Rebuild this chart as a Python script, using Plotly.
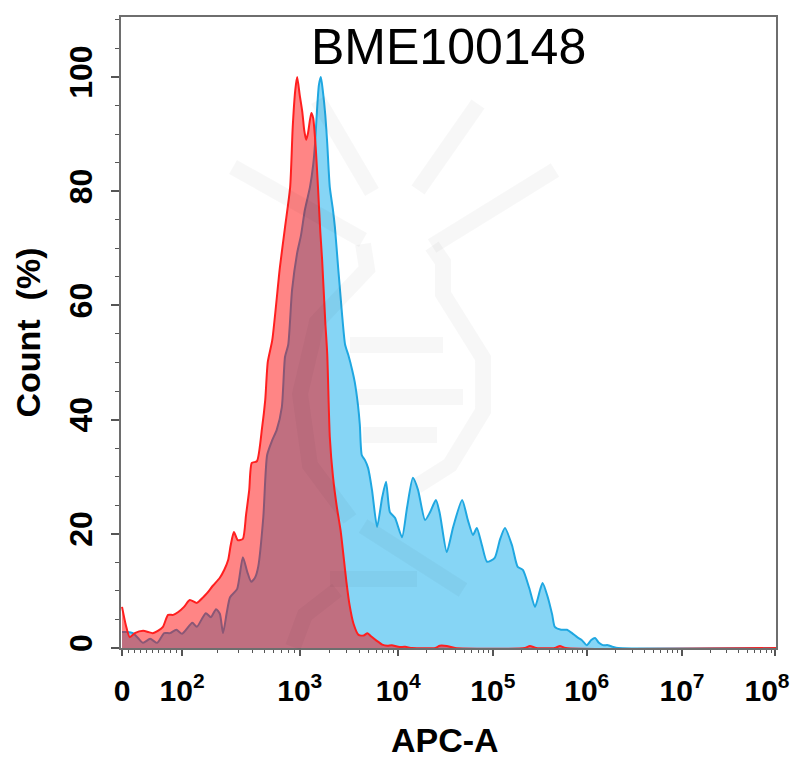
import numpy as np
import plotly.graph_objects as go

# ---------------- data (display channel on biexponential APC-A scale, 0-1023) -------------
blue_channel = [0, 8, 17, 25, 33, 44, 55, 66, 75, 85, 94, 110, 117, 131, 139, 147, 153, 158,
                164, 169, 180, 189, 196, 202, 208, 213, 221, 227, 235, 242, 250, 255, 260,
                266, 274, 280, 286, 294, 299, 302, 305, 308, 311, 314, 318, 321, 325, 330,
                333, 338, 341, 344, 349, 354, 360, 364, 369, 372, 375, 380, 385, 391, 399,
                407, 413, 419, 427, 438, 446, 455, 463, 474, 482, 491, 497, 508, 518, 532,
                541, 549, 555, 563, 571, 583, 591, 599, 610, 619, 627, 637, 646, 654, 658,
                666, 673, 677, 687, 696, 704, 712, 719, 727, 734, 740, 746, 752, 760, 768,
                776, 1023]
blue_count = [2.8, 2.8, 2.6, 1.75, 0.9, 1.6, 0.9, 2.6, 2.6, 3.2, 2.5, 4.4, 3.7, 6.1, 5.4, 6.8,
              6.0, 2.6, 6.3, 8.9, 10.3, 15.9, 13.3, 11.6, 12.3, 14.2, 22.9, 33.8, 36.4, 38.2,
              42.2, 51.0, 53.1, 62.7, 69.2, 72.3, 76.7, 80.7, 84.6, 88.4, 94.2, 98.6, 100.0,
              97.7, 93.3, 88.4, 80.7, 76.7, 73.7, 66.7, 62.7, 58.7, 53.1, 51.3, 48.7, 46.6,
              42.6, 39.1, 33.8, 32.9, 31.5, 27.7, 21.2, 26.4, 29.1, 23.8, 22.8, 19.4, 24.7,
              29.8, 27.7, 22.4, 23.8, 25.9, 23.6, 16.8, 21.2, 25.9, 22.4, 19.8, 21.0, 18.0,
              15.1, 15.8, 18.9, 21.0, 18.0, 14.2, 13.7, 10.5, 7.2, 10.2, 11.4, 8.9, 5.8, 3.7,
              3.2, 3.2, 2.6, 1.9, 1.4, 0.5, 1.4, 1.75, 0.9, 0.5, 0.5, 0.2, 0.0, 0.0]

red_channel = [0, 6, 12, 20, 33, 41, 48, 56, 64, 72, 80, 88, 97, 106, 117, 127, 133, 142, 153,
               160, 166, 170, 175, 181, 189, 194, 199, 203, 211, 219, 224, 228, 235, 247, 255,
               263, 267, 271, 274, 278, 282, 285, 288, 291, 296, 299, 303, 307, 310, 313, 318,
               321, 325, 330, 336, 342, 351, 356, 362, 370, 378, 384, 390, 398, 407, 415, 422,
               432, 443, 454, 490, 497, 508, 521, 630, 638, 648, 677, 685, 694, 1023]
red_count = [7.2, 4.0, 1.9, 2.6, 3.0, 2.8, 2.6, 3.0, 3.7, 5.8, 5.8, 6.3, 7.2, 8.4, 7.9, 8.9,
             9.6, 10.9, 12.3, 13.7, 15.4, 18.0, 20.3, 18.9, 19.1, 23.3, 27.7, 32.4, 32.7, 38.5,
             43.4, 50.1, 53.9, 66.7, 73.7, 80.7, 91.2, 97.7, 100.0, 96.8, 93.9, 90.7, 89.0,
             90.2, 93.7, 92.8, 87.7, 79.7, 73.2, 68.0, 57.0, 51.5, 37.0, 30.0, 24.7, 20.5,
             11.6, 7.5, 4.3, 2.3, 2.2, 2.6, 2.0, 1.3, 0.6, 0.4, 0.5, 0.2, 0.2, 0.0, 0.0, 0.4,
             0.35, 0.0, 0.0, 0.35, 0.0, 0.0, 0.35, 0.0, 0.0]

decade_values = [0, 1e2, 1e3, 1e4, 1e5, 1e6, 1e7, 1e8]
decade_channels = [0, 94, 278, 432, 580, 727, 876, 1022]
decade_labels = ["0", "10<sup>2</sup>", "10<sup>3</sup>", "10<sup>4</sup>", "10<sup>5</sup>",
                 "10<sup>6</sup>", "10<sup>7</sup>", "10<sup>8</sup>\u00a0\u00a0"]
y_ticks = [0, 20, 40, 60, 80, 100]

title_text = "BME100148"
x_title = "APC-A"
y_title = "Count  (%)"

# ---------------- scale helpers -------------
log_dec = np.log10(decade_values[1:])


def to_channel(v):
    if v <= 100:
        return v / 100.0 * decade_channels[1]
    return float(np.interp(np.log10(v), log_dec, decade_channels[1:]))


minor_vals = [to_channel(v) for v in range(10, 100, 10)]
for n in range(2, 8):
    for k in range(2, 10):
        minor_vals.append(to_channel(k * 10 ** n))

FONT = "Arial, Liberation Sans, sans-serif"

fig = go.Figure()
fig.add_trace(go.Scatter(
    x=blue_channel, y=blue_count, mode="lines", fill="tozeroy",
    fillcolor="#86D5F5",
    line=dict(color="#1FA7E1", width=2, shape="spline", smoothing=0.6),
    showlegend=False, hoverinfo="skip"))
fig.add_trace(go.Scatter(
    x=red_channel, y=red_count, mode="lines", fill="tozeroy",
    fillcolor="rgba(255,0,0,0.48)",
    line=dict(color="#FF1F1F", width=2, shape="spline", smoothing=0.6),
    showlegend=False, hoverinfo="skip"))

# plot box geometry (pixels) for decorative watermark placement
L, R, T, B = 121, 776, 17, 648


def px(xp, yp):
    return (xp - L) / (R - L), (B - yp) / (B - T)


wm_lines = [((233, 167), (363, 240)), ((318, 100), (372, 192)), ((478, 104), (418, 190)),
            ((555, 170), (432, 246)), ((350, 345), (443, 345)), ((357, 397), (463, 397)),
            ((363, 435), (437, 435)), ((363, 526), (463, 590)), ((330, 579), (417, 579))]
wm_paths = [[(432, 246), (443, 262), (443, 294), (483, 358), (483, 411), (450, 465), (417, 486)],
            [(363, 244), (367, 269), (317, 322), (300, 394), (310, 465), (350, 519)],
            [(293, 647), (305, 615), (337, 590)]]
shapes = []
wm_col = "rgba(0,0,0,0.03)"
for (a, b) in wm_lines:
    x0, y0 = px(*a)
    x1, y1 = px(*b)
    shapes.append(dict(type="line", xref="paper", yref="paper", x0=x0, y0=y0, x1=x1, y1=y1,
                       line=dict(color=wm_col, width=16), layer="above"))
for pts in wm_paths:
    pp = [px(*p) for p in pts]
    d = "M " + " L ".join(f"{x:.4f},{y:.4f}" for x, y in pp)
    shapes.append(dict(type="path", xref="paper", yref="paper", path=d,
                       line=dict(color=wm_col, width=16), layer="above"))

fig.update_layout(
    width=794, height=758,
    template="none",
    paper_bgcolor="white", plot_bgcolor="white",
    margin=dict(l=L, r=794 - R, t=T, b=758 - B, pad=0),
    shapes=shapes,
    annotations=[
        dict(text=title_text, xref="paper", yref="paper", x=0.5, y=(B - 47) / (B - T),
             xanchor="center", yanchor="middle", showarrow=False,
             font=dict(family=FONT, size=50, color="black")),
        dict(text=x_title, xref="paper", yref="paper", x=(445 - L) / (R - L), y=0,
             yshift=-(740 - B), xanchor="center", yanchor="middle", showarrow=False,
             font=dict(family=FONT, size=34, color="black", weight="bold")),
        dict(text=y_title, xref="paper", yref="paper", x=0, xshift=-(L - 27), y=0.5,
             xanchor="center", yanchor="middle", textangle=-90, showarrow=False,
             font=dict(family=FONT, size=34, color="black", weight="bold")),
    ],
)
fig.update_xaxes(
    range=[-1.6, 1023], tickmode="array", tickvals=decade_channels, ticktext=decade_labels,
    ticks="outside", ticklen=6, tickwidth=1.5, tickcolor="#555555", ticklabelstandoff=9,
    ticklabeloverflow="allow",
    showline=True, linecolor="#6E6E6E", linewidth=1.5, mirror=True,
    showgrid=False, zeroline=False, layer="above traces", automargin=False,
    tickfont=dict(family=FONT, size=30, color="black", weight="bold"),
    minor=dict(tickvals=minor_vals, ticks="outside", ticklen=3, tickwidth=1, tickcolor="#555555"),
)
fig.update_yaxes(
    range=[0, 110.5], tickmode="array", tickvals=y_ticks, ticktext=[str(v) for v in y_ticks],
    ticks="outside", ticklen=8, tickwidth=1.5, tickcolor="#555555", tickangle=-90,
    ticklabelstandoff=6,
    showline=True, linecolor="#6E6E6E", linewidth=1.5, mirror=True,
    showgrid=False, zeroline=False, layer="above traces", automargin=False,
    tickfont=dict(family=FONT, size=32, color="black", weight="bold"),
    minor=dict(dtick=5, ticks="outside", ticklen=4, tickwidth=1, tickcolor="#555555"),
)

fig.write_html("out.html", post_script="document.body.style.margin='0';",
               config={"displayModeBar": False})
